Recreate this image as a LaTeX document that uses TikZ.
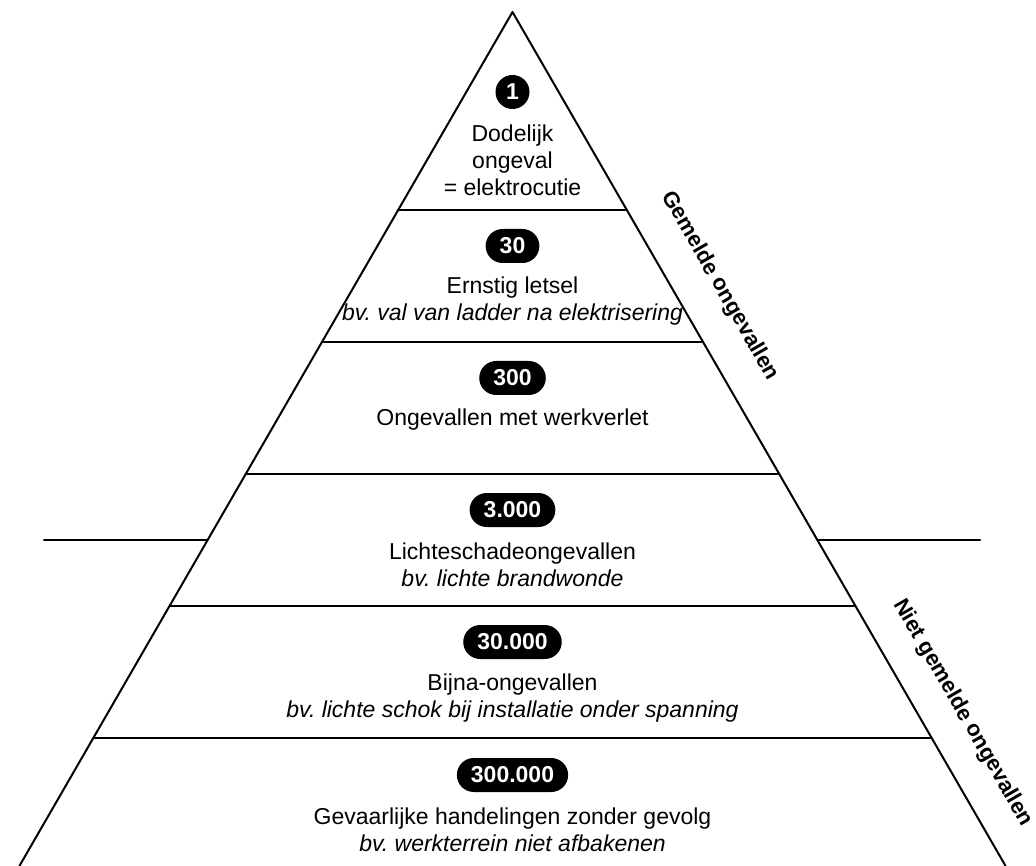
\documentclass[tikz,border=0pt]{standalone}
\usepackage{fontspec}
\setmainfont{Liberation Sans}
\usetikzlibrary{shapes.misc}
\frenchspacing
\begin{document}
\begin{tikzpicture}[x=1pt, y=-1pt, line join=round, line cap=round, line width=2pt,
	font=\fontsize{23}{27}\selectfont,
	tiertext/.style={align=center, inner sep=0pt},
	badge/.style={rounded rectangle, fill=black, text=white, font=\fontsize{23}{27}\selectfont\bfseries, minimum height=34pt, inner xsep=12pt, inner ysep=0pt},
	dotbadge/.style={circle, fill=black, text=white, font=\fontsize{23}{27}\selectfont\bfseries, minimum size=34pt, inner sep=0pt},
	sidelabel/.style={font=\fontsize{22}{26}\selectfont\bfseries, rotate=-60, inner sep=0pt}]
	\def\cx{512.5} \def\s{0.5774} % top x, half width per px
	\useasboundingbox (0,0) rectangle (1036,866);
	\coordinate (apex) at (\cx,12);
	\coordinate (bl) at ({\cx-854*\s},866);
	\coordinate (br) at ({\cx+854*\s},866);
	\draw (bl) -- (apex) -- (br);
	\foreach \y in {210,342,474,606,738}
		\draw ({\cx-(\y-12)*\s},\y) -- ({\cx+(\y-12)*\s},\y);
	% gemeld / niet gemeld
	\draw (44,540) -- ({\cx-528*\s},540);
	\draw ({\cx+528*\s},540) -- (980,540);
	% tiers
	\node[dotbadge] (n1) at (\cx,92) {1};
	\node[tiertext] (t1) at (\cx,160) {Dodelijk\\ongeval\\= elektrocutie};
	\node[badge] (n2) at (\cx,246) {30};
	\node[tiertext] (t2) at (\cx,301) {Ernstig letsel\\\textit{bv. val van ladder na elektrisering}};
	\node[badge] (n3) at (\cx,378) {300};
	\node[tiertext] (t3) at (\cx,420) {Ongevallen met werkverlet};
	\node[badge] (n4) at (\cx,510) {3.000};
	\node[tiertext] (t4) at (\cx,565) {Lichteschadeongevallen\\\textit{bv. lichte brandwonde}};
	\node[badge] (n5) at (\cx,642) {30.000};
	\node[tiertext] (t5) at (\cx,698) {Bijna-ongevallen\\\textit{bv. lichte schok bij installatie onder spanning}};
	\node[badge] (n6) at (\cx,775) {300.000};
	\node[tiertext] (t6) at (\cx,830) {Gevaarlijke handelingen zonder gevolg\\\textit{bv. werkterrein niet afbakenen}};
	% zijlabels
	\node[sidelabel] (gem) at (720,286) {Gemelde ongevallen};
	\node[sidelabel] (niet) at (963,713) {Niet gemelde ongevallen};
\end{tikzpicture}
\end{document}
